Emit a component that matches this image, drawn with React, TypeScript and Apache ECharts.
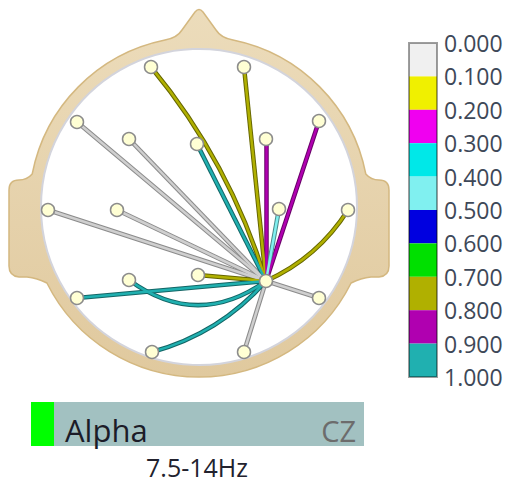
import React, { useEffect, useRef } from "react";
import * as echarts from "echarts";

// Electrode layout (scalp coordinates)
const electrodeNames = ["Fp1", "Fp2", "F7", "F3", "Fz", "F4", "F8", "T3", "C3", "C4", "T4", "P3", "Pz", "CZ", "P4", "T5", "O1", "O2"];
const electrodeX = [151, 244, 77, 129, 197, 266, 319, 48, 117, 279, 348, 129, 198, 266, 319, 77, 152, 244];
const electrodeY = [67, 67, 122, 139, 144, 139, 121, 210, 210, 209, 210, 280, 275, 281, 298, 298, 352, 352];

// Connections from the hub electrode
const hubName = "CZ";
const linkTargets = ["Fp1", "Fp2", "F7", "F3", "C3", "T3", "O2", "P4", "Fz", "F4", "F8", "C4", "T4", "Pz", "P3", "T5", "O1"];
const linkValues = [0.75, 0.75, 0.05, 0.05, 0.05, 0.05, 0.05, 0.05, 0.95, 0.85, 0.85, 0.45, 0.75, 0.75, 0.95, 0.95, 0.95];
const linkCurveness = [-0.1, 0, 0, 0, 0, 0, 0, 0, 0, 0, 0, 0, -0.15, 0, 0.36, 0, 0.15];

// Colour scale
const scaleTicks = [0, 0.1, 0.2, 0.3, 0.4, 0.5, 0.6, 0.7, 0.8, 0.9, 1.0];
const scaleColors = ["#f0f0f0", "#f0f000", "#f000f0", "#00e8e8", "#80f0f0", "#0000e0", "#00e000", "#b0b000", "#b000b0", "#20b0b0"];

// Band info
const bandName = "Alpha";
const bandRange = "7.5-14Hz";
const bandColor = "#00ff00";
const channelName = "CZ";

const FONT = "'Open Sans', 'Noto Sans', sans-serif";

const HEAD_PATH =
  "M 166 40 Q 178 38 183 30 L 196 12 Q 200 7 204 12 L 217 30 Q 222 38 234 40 " +
  "A 170 170 0 0 1 366.8 174 Q 372 180 380 180 Q 390 180 390 190 L 390 266 Q 390 276 380 277 L 372 277 Q 362 278 352.1 283 " +
  "A 170 170 0 0 1 47.9 283 Q 38 278 28 277 L 20 277 Q 10 276 10 266 L 10 190 Q 10 180 20 180 Q 28 180 33.2 174 " +
  "A 170 170 0 0 1 166 40 Z";

let headRegistered = false;
function ensureHead() {
  if (headRegistered) return;
  echarts.graphic.registerShape("head", echarts.graphic.extendPath(HEAD_PATH, {}));
  headRegistered = true;
}

function binColor(v: number) {
  const i = Math.min(scaleColors.length - 1, Math.max(0, Math.floor(v * 10 + 1e-9)));
  return scaleColors[i];
}

function darken(hex: string, f: number) {
  const n = parseInt(hex.slice(1), 16);
  const r = Math.round(((n >> 16) & 255) * f);
  const g = Math.round(((n >> 8) & 255) * f);
  const b = Math.round((n & 255) * f);
  return `rgb(${r},${g},${b})`;
}

export default function App() {
  const ref = useRef<HTMLDivElement>(null);

  useEffect(() => {
    if (!ref.current) return;
    ensureHead();
    const chart = echarts.init(ref.current, undefined, { renderer: "svg" });

    const pos = (name: string): [number, number] => {
      const i = electrodeNames.indexOf(name);
      return [electrodeX[i], electrodeY[i]];
    };
    const hub = pos(hubName);

    const outlineData = linkTargets.map((t, i) => ({
      coords: [hub, pos(t)],
      lineStyle: { color: darken(binColor(linkValues[i]), 0.58), curveness: linkCurveness[i] },
    }));
    const coreData = linkTargets.map((t, i) => ({
      coords: [hub, pos(t)],
      lineStyle: {
        color: linkValues[i] < 0.1 ? "#cfcfcf" : binColor(linkValues[i]),
        curveness: linkCurveness[i],
      },
    }));

    const barSeries = scaleColors.map((c, i) => ({
      type: "bar",
      xAxisIndex: 1,
      yAxisIndex: 1,
      stack: "scale",
      barWidth: "100%",
      silent: true,
      data: [scaleTicks[i + 1] - scaleTicks[i]],
      itemStyle: { color: c },
      z: 2,
    }));

    chart.setOption({
      animation: false,
      backgroundColor: "#ffffff",
      grid: [
        { left: 41, top: 49, width: 316, height: 316 },
        { left: 409, top: 43, width: 28, height: 334 },
      ],
      xAxis: [
        { gridIndex: 0, type: "value", min: 41, max: 357, show: false },
        { gridIndex: 1, type: "category", data: ["scale"], show: false },
      ],
      yAxis: [
        { gridIndex: 0, type: "value", min: 49, max: 365, inverse: true, show: false },
        {
          gridIndex: 1,
          type: "value",
          min: 0,
          max: 1,
          interval: 0.1,
          inverse: true,
          position: "right",
          axisLine: { show: false },
          axisTick: { show: false },
          splitLine: { show: false },
          axisLabel: {
            formatter: (v: number) => v.toFixed(3),
            fontSize: 23,
            color: "#3e4858",
            fontFamily: FONT,
            margin: 7,
          },
        },
      ],
      graphic: [
        {
          type: "head",
          x: -1,
          y: 0,
          z: 0,
          silent: true,
          style: {
            fill: {
              type: "linear",
              x: 0,
              y: 0,
              x2: 0,
              y2: 1,
              colorStops: [
                { offset: 0, color: "#ecdcbb" },
                { offset: 1, color: "#e0c99e" },
              ],
            },
            stroke: "#d4b880",
            lineWidth: 1.5,
          },
        },
        {
          type: "circle",
          z: 1,
          silent: true,
          shape: { cx: 199, cy: 207, r: 158 },
          style: { fill: "#ffffff", stroke: "#d3d4dc", lineWidth: 2 },
        },
        {
          type: "rect",
          z: 10,
          silent: true,
          shape: { x: 409, y: 43, width: 28, height: 334 },
          style: { fill: "none", stroke: "rgba(0,0,0,0.38)", lineWidth: 2 },
        },
        {
          type: "rect",
          z: 0,
          silent: true,
          shape: { x: 31, y: 402, width: 333, height: 44 },
          style: { fill: "#a2c1c1" },
        },
        {
          type: "rect",
          z: 1,
          silent: true,
          shape: { x: 31, y: 402, width: 23, height: 44 },
          style: { fill: bandColor },
        },
        {
          type: "text",
          z: 2,
          x: 65,
          y: 430,
          style: {
            text: bandName,
            fontSize: 31,
            fontFamily: FONT,
            fill: "#1c1c28",
            align: "left",
            verticalAlign: "middle",
          },
        },
        {
          type: "text",
          z: 2,
          x: 356,
          y: 430,
          style: {
            text: channelName,
            fontSize: 29,
            fontFamily: FONT,
            fill: "#6c6c6c",
            align: "right",
            verticalAlign: "middle",
          },
        },
        {
          type: "text",
          z: 2,
          x: 197,
          y: 467,
          style: {
            text: bandRange,
            fontSize: 25,
            fontFamily: FONT,
            fill: "#22222e",
            align: "center",
            verticalAlign: "middle",
          },
        },
      ],
      series: [
        {
          type: "lines",
          coordinateSystem: "cartesian2d",
          xAxisIndex: 0,
          yAxisIndex: 0,
          silent: true,
          z: 3,
          lineStyle: { width: 4.5, opacity: 1 },
          data: outlineData,
        },
        {
          type: "lines",
          coordinateSystem: "cartesian2d",
          xAxisIndex: 0,
          yAxisIndex: 0,
          silent: true,
          z: 4,
          lineStyle: { width: 2.5, opacity: 1 },
          data: coreData,
        },
        {
          type: "scatter",
          xAxisIndex: 0,
          yAxisIndex: 0,
          silent: true,
          z: 5,
          symbol: "circle",
          symbolSize: 13,
          itemStyle: { color: "#ffffd4", borderColor: "#8c8c8c", borderWidth: 1.5, opacity: 1 },
          data: electrodeNames.map((n, i) => ({ name: n, value: [electrodeX[i], electrodeY[i]] })),
        },
        ...barSeries,
      ],
    });

    return () => {
      chart.dispose();
    };
  }, []);

  return (
    <div
      ref={ref}
      style={{ position: "absolute", left: 0, top: 0, width: 511, height: 484 }}
    />
  );
}
